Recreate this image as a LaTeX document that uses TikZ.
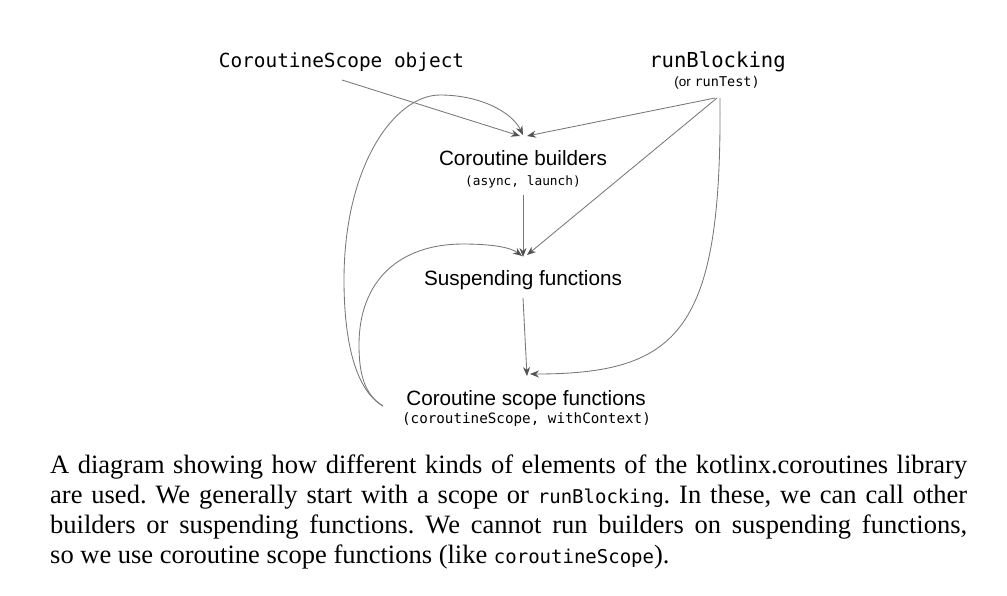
\documentclass[tikz,border=0pt]{standalone}
\usepackage{fontspec}
\setmainfont{Liberation Serif}
\setsansfont{Liberation Sans}
\setmonofont{DejaVu Sans Mono}
\usetikzlibrary{arrows.meta}
\definecolor{linegray}{HTML}{777777}
\frenchspacing
\begin{document}
\begin{tikzpicture}[x=1pt,y=-1pt,
  lbl/.style={font=\sffamily\fontsize{20.7}{24}\selectfont, inner sep=0pt, anchor=base},
  monolbl/.style={font=\ttfamily\fontsize{#1}{24}\selectfont, inner sep=0pt, anchor=base},
  sublbl/.style={font=\ttfamily\fontsize{#1}{16}\selectfont, inner sep=0pt, anchor=base},
  capline/.style={font=\rmfamily\fontsize{26.5}{30}\selectfont, inner sep=0pt, anchor=base west},
  conn/.style={draw=linegray, line width=0.85pt, -{Stealth[length=9pt,width=7pt,inset=3pt,color=black!68]}},
]
\useasboundingbox (0,0) rectangle (1007,595);
\newcommand{\capmono}[1]{{\ttfamily\fontsize{19}{30}\selectfont #1}}

% labels
\node[monolbl=19.4] (cso) at (341.5,67) {CoroutineScope object};
\node[monolbl=20.6] (rb) at (717.5,67) {runBlocking};
\node[sublbl=13.5] (rbsub) at (717,86) {{\sffamily(or }runTest)};
\node[lbl] (cb) at (523,165) {Coroutine builders};
\node[sublbl=12.8] (cbsub) at (523,185) {(async, launch)};
\node[lbl] (sf) at (523,285) {Suspending functions};
\node[lbl] (csf) at (526,405) {Coroutine scope functions};
\node[sublbl=14.25] (csfsub) at (526.5,423) {(coroutineScope, withContext)};

% connector ends
\coordinate (csoOut) at (342,80);
\coordinate (rbOutA) at (715,98);
\coordinate (rbOutB) at (717,98);
\coordinate (rbOutC) at (720,98);
\coordinate (cbInA) at (520,136);
\coordinate (cbInB) at (523,135);
\coordinate (cbInC) at (527,136);
\coordinate (cbOut) at (523,195);
\coordinate (sfInA) at (522,256);
\coordinate (sfInB) at (523,257);
\coordinate (sfInC) at (527,255);
\coordinate (sfOut) at (523,298);
\coordinate (csfInA) at (527,376);
\coordinate (csfInB) at (530,374);
\coordinate (csfOut) at (383,406);

% straight connectors
\draw[conn] (csoOut) -- (cbInA);
\draw[conn] (rbOutA) -- (cbInC);
\draw[conn] (rbOutB) -- (sfInC);
\draw[conn] (cbOut) -- (sfInB);
\draw[conn] (sfOut) -- (csfInA);

% curved connectors
\draw[conn] (csfOut) .. controls (355,390) and (344,340) .. (344,280)
  .. controls (344,165) and (395,95) .. (440,95)
  .. controls (480,95) and (512,112) .. (cbInB);
\draw[conn] (csfOut) .. controls (365,395) and (359,375) .. (359,345)
  .. controls (359,280) and (400,244) .. (463,244)
  .. controls (490,244) and (510,247) .. (sfInA);
\draw[conn] (rbOutC) .. controls (722,330) and (680,374) .. (csfInB);

% caption
\node[capline] (cap1) at (50,473) {\hbox to 917pt{A diagram showing how different kinds of elements of the kotlinx.coroutines library}};
\node[capline] (cap2) at (50,503) {\hbox to 917pt{are used. We generally start with a scope or \capmono{runBlocking}. In these, we can call other}};
\node[capline] (cap3) at (50,533) {\hbox to 917pt{builders or suspending functions. We cannot run builders on suspending functions,}};
\node[capline] (cap4) at (50,563) {so we use coroutine scope functions (like \capmono{coroutineScope}).};
\end{tikzpicture}
\end{document}
